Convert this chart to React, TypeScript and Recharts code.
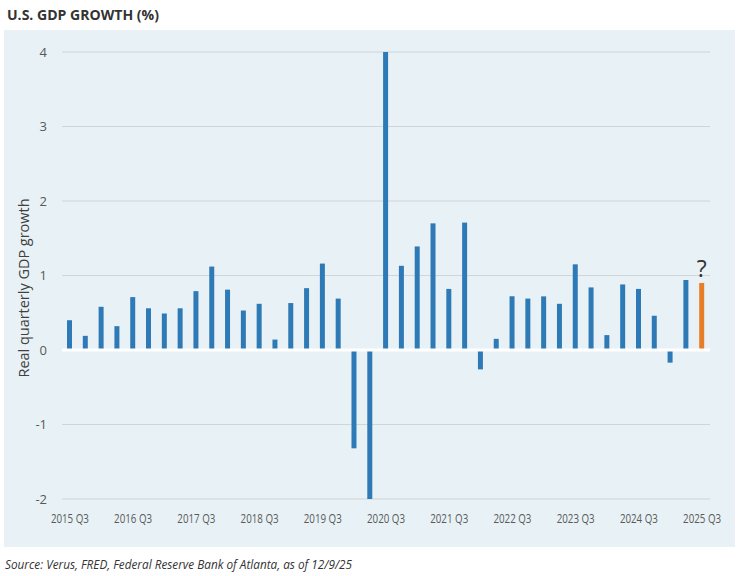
import React from "react";
import {
  BarChart,
  Bar,
  Cell,
  XAxis,
  YAxis,
  CartesianGrid,
  ReferenceLine,
  LabelList,
} from "recharts";

const quarters = [
  "2015 Q3", "2015 Q4", "2016 Q1", "2016 Q2", "2016 Q3", "2016 Q4",
  "2017 Q1", "2017 Q2", "2017 Q3", "2017 Q4", "2018 Q1", "2018 Q2",
  "2018 Q3", "2018 Q4", "2019 Q1", "2019 Q2", "2019 Q3", "2019 Q4",
  "2020 Q1", "2020 Q2", "2020 Q3", "2020 Q4", "2021 Q1", "2021 Q2",
  "2021 Q3", "2021 Q4", "2022 Q1", "2022 Q2", "2022 Q3", "2022 Q4",
  "2023 Q1", "2023 Q2", "2023 Q3", "2023 Q4", "2024 Q1", "2024 Q2",
  "2024 Q3", "2024 Q4", "2025 Q1", "2025 Q2", "2025 Q3",
];

// real quarterly GDP growth, % (2020 Q2 / Q3 are cut off at the axis limits)
const growth = [
  0.4, 0.19, 0.58, 0.32, 0.71, 0.56,
  0.49, 0.56, 0.79, 1.12, 0.81, 0.53,
  0.62, 0.14, 0.63, 0.83, 1.16, 0.69,
  -1.32, -2.0, 4.0, 1.13, 1.39, 1.7,
  0.82, 1.71, -0.26, 0.15, 0.72, 0.69,
  0.72, 0.62, 1.15, 0.84, 0.2, 0.88,
  0.82, 0.46, -0.17, 0.94, 0.9,
];

const yTicks = [-2, -1, 0, 1, 2, 3, 4];
const estimateNote = "?";

const BLUE = "#2e7ab6";
const ORANGE = "#e87d28";
const TEXT = "#595959";

const lastIdx = quarters.length - 1;
const chartData = quarters.map((q, i) => ({
  quarter: q,
  growth: growth[i],
  note: i === lastIdx ? estimateNote : undefined,
}));

function XTick({ x, y, payload }: any) {
  return (
    <text
      x={x}
      y={y + 24}
      textAnchor="middle"
      fill={TEXT}
      fontSize={13}
      fontFamily="Open Sans"
      textLength={38}
      lengthAdjust="spacingAndGlyphs"
    >
      {payload.value}
    </text>
  );
}

export default function App() {
  return (
    <div style={{ position: "absolute", left: 0, top: 0, width: 740, height: 576, background: "#fff" }}>
      <div
        style={{
          position: "absolute",
          left: 4,
          top: 30,
          width: 731,
          height: 517,
          background: "#e8f1f5",
        }}
      />
      <div style={{ position: "absolute", left: 0, top: 0 }}>
        <BarChart
          width={740}
          height={576}
          data={chartData}
          margin={{ top: 52, right: 30, bottom: 47, left: 2 }}
        >
          <CartesianGrid vertical={false} stroke="#d0d5d8" />
          <XAxis
            dataKey="quarter"
            interval={3}
            axisLine={false}
            tickLine={false}
            tickSize={0}
            tickMargin={0}
            height={30}
            tick={<XTick />}
          />
          <YAxis
            type="number"
            domain={[-2, 4]}
            ticks={yTicks}
            width={60}
            axisLine={false}
            tickLine={false}
            tickSize={0}
            tickMargin={15}
            tick={{ fill: TEXT, fontSize: 13, fontFamily: "Open Sans" }}
            label={() => (
              <text
                x={23}
                y={288}
                transform="rotate(-90 23 288)"
                textAnchor="middle"
                dominantBaseline="central"
                fill="#404040"
                fontSize={14}
                fontFamily="Open Sans"
                textLength={179}
                lengthAdjust="spacingAndGlyphs"
              >
                Real quarterly GDP growth
              </text>
            )}
          />
          <Bar dataKey="growth" barSize={5} isAnimationActive={false}>
            {chartData.map((d, i) => (
              <Cell key={d.quarter} fill={i === lastIdx ? ORANGE : BLUE} />
            ))}
            <LabelList
              dataKey="note"
              position="top"
              offset={6}
              fill="#333"
              fontSize={23}
              fontFamily="Open Sans"
            />
          </Bar>
          <ReferenceLine y={0} stroke="#ffffff" strokeWidth={3} />
        </BarChart>
      </div>
      <svg
        width={740}
        height={576}
        style={{ position: "absolute", left: 0, top: 0, pointerEvents: "none" }}
      >
        <text
          x={7}
          y={19.5}
          fill="#333"
          fontSize={13.5}
          fontWeight={700}
          fontFamily="Open Sans"
          textLength={152}
          lengthAdjust="spacingAndGlyphs"
        >
          U.S. GDP GROWTH (%)
        </text>
        <text
          x={5}
          y={569}
          fill="#333"
          fontSize={12}
          fontStyle="italic"
          fontFamily="Open Sans"
          textLength={347}
          lengthAdjust="spacingAndGlyphs"
        >
          Source: Verus, FRED, Federal Reserve Bank of Atlanta, as of 12/9/25
        </text>
      </svg>
    </div>
  );
}
